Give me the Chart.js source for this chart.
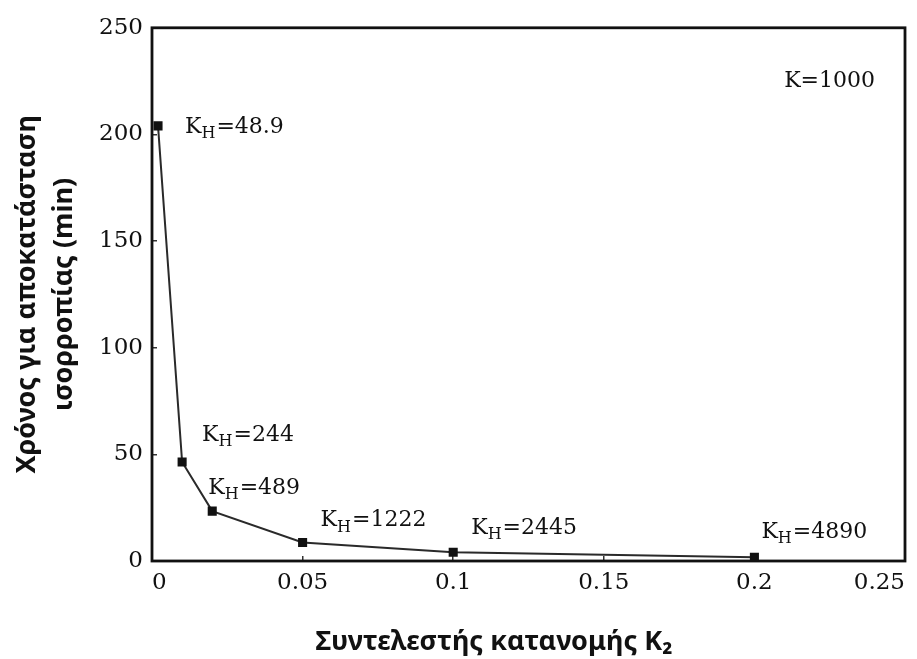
<!DOCTYPE html>
<html>
<head>
<meta charset="utf-8">
<script src="https://cdn.jsdelivr.net/npm/chart.js@4.4.0/dist/chart.umd.min.js"></script>
<style>
  html, body { margin: 0; padding: 0; background: #fff; }
  #wrap { width: 917px; height: 659px; }
</style>
</head>
<body>
<div id="wrap"><canvas id="myChart"></canvas></div>
<script>
// data
const k2Values = [0.002, 0.01, 0.02, 0.05, 0.1, 0.2];
const timeMin = [204, 46.4, 23.4, 8.7, 4.1, 1.8];
const khLabels = ['48.9', '244', '489', '1222', '2445', '4890'];
const xTicks = [0, 0.05, 0.1, 0.15, 0.2, 0.25];
const yTicks = [0, 50, 100, 150, 200, 250];
const yTitle = ['Χρόνος για αποκατάσταση', 'ισορροπίας (min)'];
const xTitle = 'Συντελεστής κατανομής K₂';
const noteText = 'K=1000';

// where each K_H label sits relative to its point (px)
const labelOffsets = [[27, 1], [20, -27], [-4, -23], [18, -22], [18, -24], [7, -25]];

const serif = '"DejaVu Serif", serif';
const sans = '"Noto Sans", "Open Sans", sans-serif';

const frame = {
    id: 'frame',
    beforeDatasetsDraw(chart) {
        const a = chart.chartArea;
        const ctx = chart.ctx;
        ctx.save();
        ctx.strokeStyle = '#111';
        ctx.lineWidth = 2.8;
        ctx.strokeRect(a.left, a.top, a.right - a.left, a.bottom - a.top);
        ctx.restore();
    }
};

const annotations = {
    id: 'annotations',
    afterDatasetsDraw(chart) {
        const ctx = chart.ctx;
        const pts = chart.getDatasetMeta(0).data;
        ctx.save();
        ctx.fillStyle = '#111';
        ctx.textBaseline = 'middle';
        ctx.textAlign = 'left';
        pts.forEach((p, i) => {
            let x = p.x + labelOffsets[i][0];
            const y = p.y + labelOffsets[i][1];
            ctx.font = '22px ' + serif;
            ctx.fillText('K', x, y);
            x += ctx.measureText('K').width;
            ctx.font = '16px ' + serif;
            ctx.fillText('H', x, y + 7);
            x += ctx.measureText('H').width + 1;
            ctx.font = '22px ' + serif;
            ctx.fillText('=' + khLabels[i], x, y);
        });

        const a = chart.chartArea;
        ctx.textAlign = 'right';
        ctx.font = '22px ' + serif;
        ctx.fillText(noteText, a.right - 30, a.top + 53);

        // x axis title, sits a bit left of the plot centre in the original
        ctx.textAlign = 'center';
        ctx.fillStyle = '#111';
        ctx.font = 'bold 27px ' + sans;
        ctx.fillText(xTitle, 494, 642);
        ctx.restore();
    }
};

const ctx = document.getElementById('myChart').getContext('2d');
const chart = new Chart(ctx, {
    type: 'line',
    data: {
        datasets: [{
            data: k2Values.map((k, i) => ({ x: k, y: timeMin[i] })),
            borderColor: '#2a2a2a',
            borderWidth: 2,
            backgroundColor: '#111',
            pointStyle: 'rect',
            pointRadius: 5,
            pointBackgroundColor: '#111',
            pointBorderColor: '#111',
            tension: 0,
            clip: false
        }]
    },
    options: {
        responsive: true,
        maintainAspectRatio: false,
        animation: false,
        layout: { padding: { left: 4, top: 17, right: 12, bottom: 0 } },
        plugins: {
            legend: { display: false },
            tooltip: { enabled: false }
        },
        scales: {
            x: {
                type: 'linear',
                min: 0,
                max: 0.25,
                afterBuildTicks: s => { s.ticks = xTicks.map(v => ({ value: v })); },
                ticks: {
                    font: { family: serif, size: 23 },
                    color: '#111',
                    padding: 13,
                    align: 'inner',
                    maxRotation: 0,
                    callback: v => String(v)
                },
                grid: { drawOnChartArea: false, tickLength: -5, color: '#333', lineWidth: 1.5 },
                border: { display: false },
                afterFit: s => { s.height = 98; s.paddingLeft = 0; s.paddingRight = 0; }
            },
            y: {
                type: 'linear',
                min: 0,
                max: 250,
                afterBuildTicks: s => { s.ticks = yTicks.map(v => ({ value: v })); },
                ticks: {
                    font: { family: serif, size: 23 },
                    color: '#111',
                    padding: 14
                },
                grid: { drawOnChartArea: false, tickLength: -5, color: '#333', lineWidth: 1.5 },
                border: { display: false },
                title: {
                    display: true,
                    text: yTitle,
                    color: '#111',
                    font: { family: sans, weight: 'bold', size: 27, lineHeight: 1.37 },
                    padding: { top: 5, bottom: 0 }
                },
                afterFit: s => { s.width = 148; }
            }
        }
    },
    plugins: [frame, annotations]
});
</script>
</body>
</html>
